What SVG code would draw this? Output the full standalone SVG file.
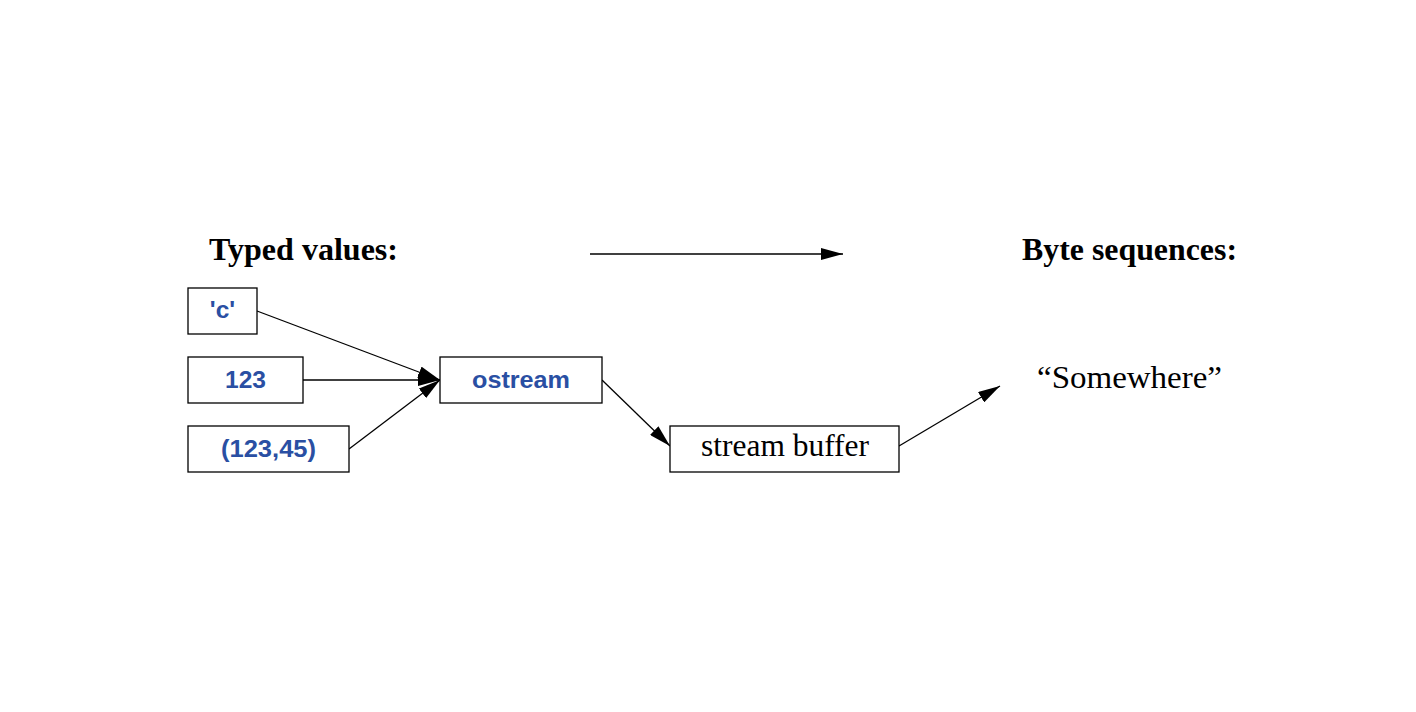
<svg xmlns="http://www.w3.org/2000/svg" width="1416" height="712" viewBox="0 0 1416 712">
<style>
.box{fill:#fff;stroke:#000;stroke-width:1.3}
.val{font-family:"Liberation Sans",Arial,sans-serif;font-weight:bold;font-size:24.5px;fill:#2a4fa3;text-anchor:middle}
.ser{font-family:"Liberation Serif","Times New Roman",serif;font-size:32px;fill:#000}
.hd{font-family:"Liberation Serif","Times New Roman",serif;font-weight:bold;font-size:32px;fill:#000}
.ln{stroke:#000;stroke-width:1.3;fill:none}
</style>
<defs>
<marker id="ah" markerUnits="userSpaceOnUse" markerWidth="22" markerHeight="12" refX="22" refY="6" orient="auto">
<path d="M0,0 L22,6 L0,12 z" fill="#000"/>
</marker>
</defs>
<rect width="1416" height="712" fill="#fff"/>
<g id="labels">
<text class="hd" x="209" y="260" textLength="189" lengthAdjust="spacingAndGlyphs">Typed values:</text>
<text class="hd" x="1022" y="260" textLength="215" lengthAdjust="spacingAndGlyphs">Byte sequences:</text>
</g>
<g id="connectors">
<line class="ln" x1="590" y1="254" x2="843" y2="254" stroke-width="2" marker-end="url(#ah)"/>
<line class="ln" x1="257" y1="311" x2="440" y2="380" marker-end="url(#ah)"/>
<line class="ln" x1="303" y1="380" x2="440" y2="380" marker-end="url(#ah)"/>
<line class="ln" x1="349" y1="449" x2="440" y2="380" marker-end="url(#ah)"/>
<line class="ln" x1="602" y1="380" x2="670" y2="446" marker-end="url(#ah)"/>
<line class="ln" x1="899" y1="446" x2="1000" y2="386" marker-end="url(#ah)"/>
</g>
<g id="node-c">
<rect class="box" x="188" y="288" width="69" height="46"/>
<text class="val" x="222.5" y="318">'c'</text>
</g>
<g id="node-123">
<rect class="box" x="188" y="357" width="115" height="46"/>
<text class="val" x="245.5" y="388" textLength="41" lengthAdjust="spacingAndGlyphs">123</text>
</g>
<g id="node-pair">
<rect class="box" x="188" y="426" width="161" height="46"/>
<text class="val" x="268.5" y="457" textLength="95" lengthAdjust="spacingAndGlyphs">(123,45)</text>
</g>
<g id="node-ostream">
<rect class="box" x="440" y="357" width="162" height="46"/>
<text class="val" x="521" y="388" textLength="98" lengthAdjust="spacingAndGlyphs">ostream</text>
</g>
<g id="node-buffer">
<rect class="box" x="670" y="426" width="229" height="46"/>
<text class="ser" x="785" y="456" text-anchor="middle" textLength="168" lengthAdjust="spacingAndGlyphs">stream buffer</text>
</g>
<g id="node-somewhere">
<text class="ser" x="1129.5" y="388" text-anchor="middle" textLength="185" lengthAdjust="spacingAndGlyphs">“Somewhere”</text>
</g>
</svg>
